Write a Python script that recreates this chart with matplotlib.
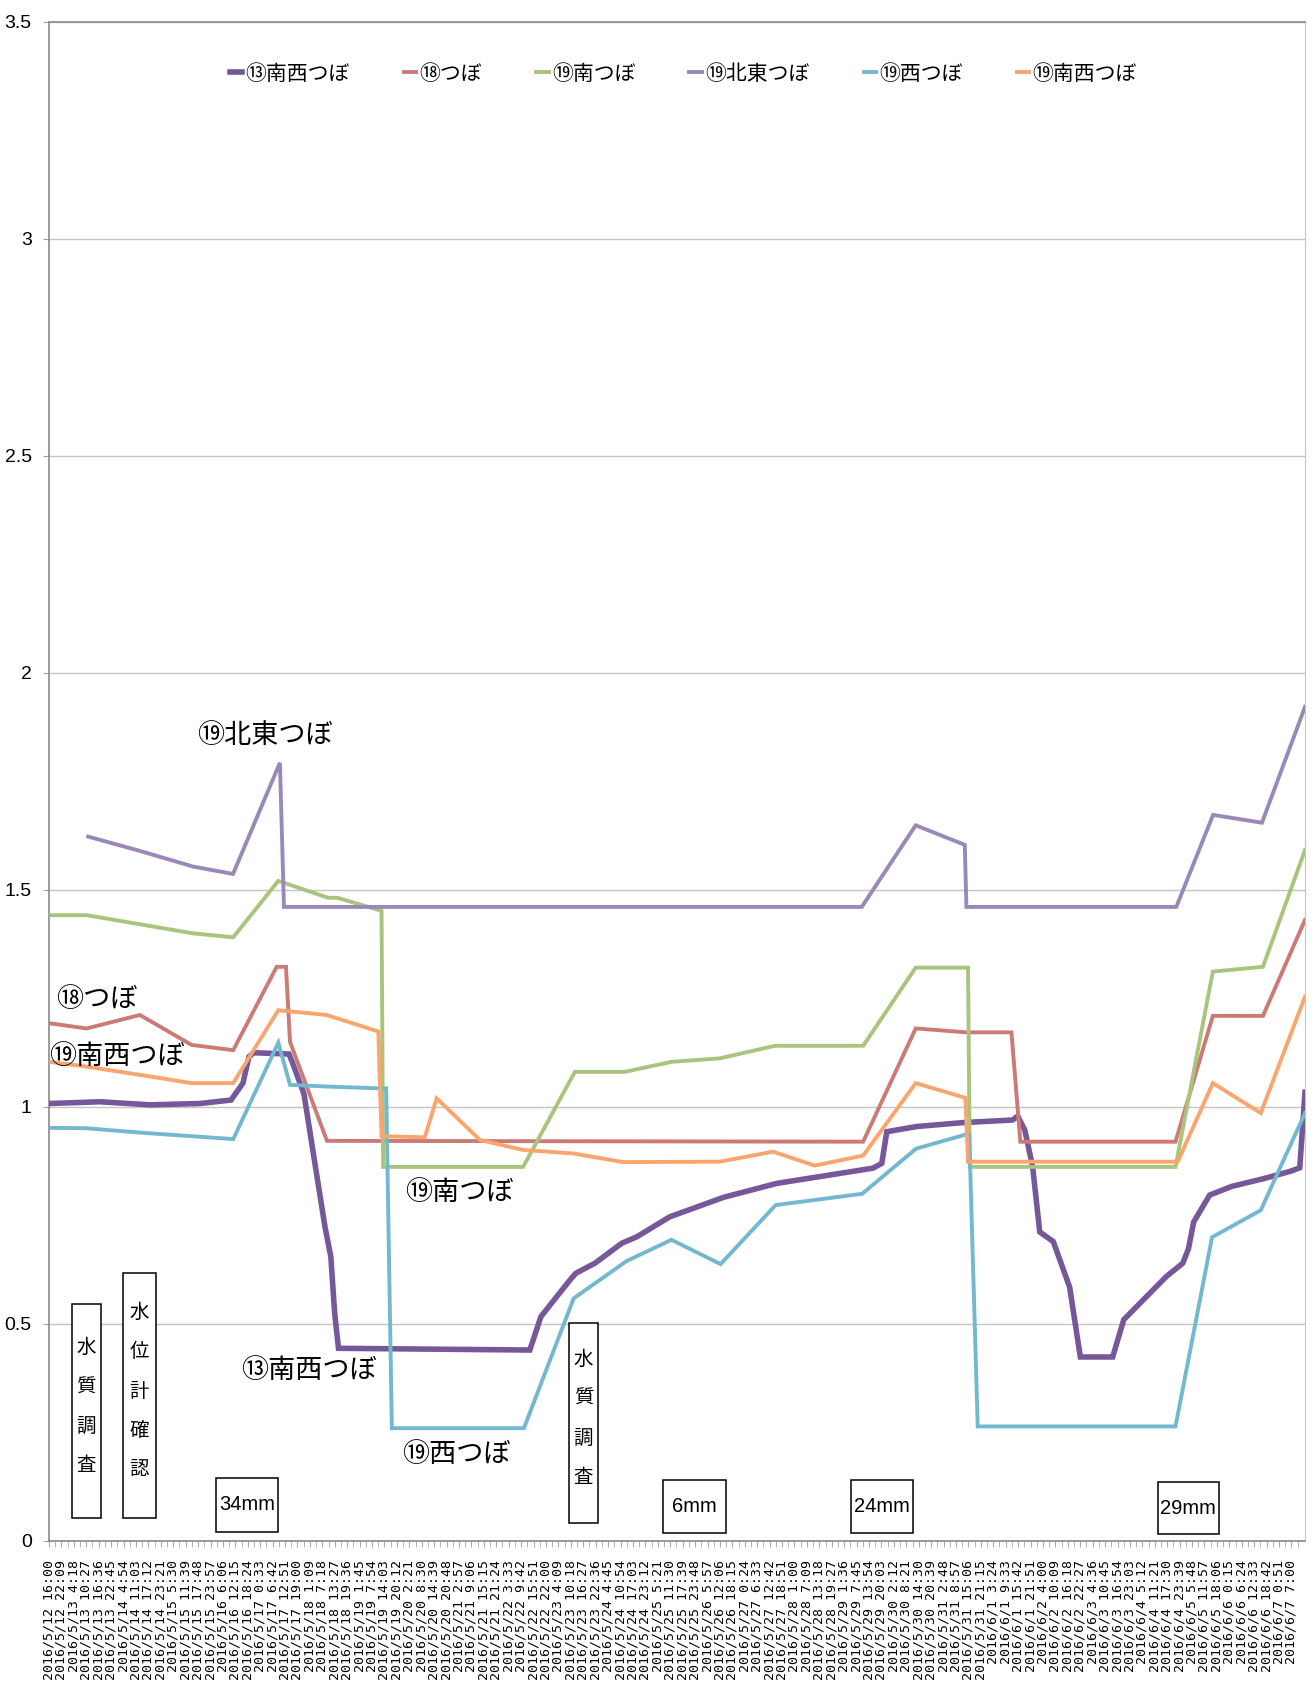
import matplotlib
matplotlib.use('Agg')
import matplotlib.pyplot as plt
from matplotlib.patches import Rectangle
import pandas as pd

plt.rcParams['font.family'] = ['Noto Sans CJK JP', 'DejaVu Sans']
NARROW = ['Liberation Sans', 'DejaVu Sans']

# x values: hours since 2016/5/12 16:00 ; y values: water level (m)
t13 = [0, 25.2, 50, 74.7, 90.1, 96, 99, 101.4, 118.8, 120.7, 126.2, 131.9, 136.6, 139.5,
       141.4, 143.3, 238.0, 243.5, 247.4, 257.8, 260.8, 270.2, 283.5, 291.0, 307.3, 334.0,
       360.3, 382.0, 407.8, 412.2, 414.7, 429.5, 452.3, 477.0, 479.5, 483.0, 486.9, 490.4,
       497.1, 505.2, 510.5, 526.5, 532.0, 542.6, 553.2, 561.2, 564.0, 566.6, 574.5, 585.4,
       601.3, 614.6, 619.1, 621.7]
v13 = [1.008, 1.012, 1.005, 1.008, 1.016, 1.055, 1.116, 1.125, 1.122, 1.10, 1.03, 0.862,
       0.724, 0.655, 0.525, 0.444, 0.440, 0.517, 0.540, 0.601, 0.617, 0.640, 0.686, 0.701,
       0.747, 0.792, 0.824, 0.840, 0.859, 0.870, 0.943, 0.955, 0.964, 0.970, 0.979, 0.947,
       0.862, 0.712, 0.690, 0.585, 0.424, 0.424, 0.510, 0.560, 0.610, 0.640, 0.673, 0.735,
       0.797, 0.817, 0.835, 0.852, 0.860, 1.034]

t18 = [0, 18.6, 45, 70.6, 91.2, 112.7, 117.3, 119.3, 137.6, 403.0, 429.0, 454.0, 476.4,
       480.8, 557.6, 576.1, 600.9, 621.7]
v18 = [1.193, 1.181, 1.212, 1.143, 1.131, 1.323, 1.323, 1.150, 0.922, 0.920, 1.181, 1.172,
       1.172, 0.920, 0.920, 1.210, 1.210, 1.431]

t19s = [0, 18.6, 45, 71.4, 91.2, 113.5, 138.2, 142.8, 164.6, 165.4, 234.7, 260.3, 285.0,
        308.1, 332.0, 359.3, 403.0, 429.0, 454.9, 455.8, 557.6, 576.1, 600.9, 621.7]
v19s = [1.442, 1.442, 1.421, 1.400, 1.391, 1.521, 1.482, 1.482, 1.452, 0.862, 0.862, 1.081,
        1.081, 1.104, 1.112, 1.141, 1.141, 1.321, 1.321, 0.862, 0.862, 1.312, 1.323, 1.592]

t19ne = [19.4, 45.0, 71.3, 91.1, 114.3, 116.3, 402.3, 429.0, 453.3, 454.1, 558.0, 576.2,
         600.4, 621.7]
v19ne = [1.623, 1.590, 1.554, 1.537, 1.793, 1.461, 1.461, 1.649, 1.604, 1.461, 1.461, 1.673,
         1.655, 1.922]

t19w = [0, 18.6, 45, 91.2, 113.5, 119.3, 138.2, 163.0, 166.9, 169.7, 235.1, 259.7, 285.9,
        308.1, 332.4, 359.7, 402.5, 429.2, 453.4, 455.5, 459.7, 557.6, 575.7, 599.8, 621.7]
v19w = [0.952, 0.951, 0.941, 0.926, 1.148, 1.051, 1.047, 1.043, 1.043, 0.260, 0.260, 0.559,
        0.645, 0.694, 0.638, 0.774, 0.800, 0.904, 0.936, 0.936, 0.264, 0.264, 0.700, 0.762,
        0.986]

t19sw = [0, 18.6, 45, 70.6, 91.2, 113.5, 137.4, 163.0, 164.6, 186.0, 191.9, 213.3, 234.7,
         259.5, 284.2, 332.0, 358.4, 379.0, 403.0, 429.0, 453.6, 454.9, 558.7, 576.1, 599.8,
         621.7]
v19sw = [1.104, 1.093, 1.074, 1.055, 1.055, 1.223, 1.212, 1.174, 0.933, 0.930, 1.020, 0.924,
         0.901, 0.893, 0.873, 0.874, 0.897, 0.865, 0.888, 1.055, 1.021, 0.874, 0.874, 1.055,
         0.986, 1.254]

series_names = ['⑬南西つぼ', '⑱つぼ', '⑲南つぼ', '⑲北東つぼ', '⑲西つぼ', '⑲南西つぼ']
series_colors = ['#76579A', '#CC7A75', '#A9C57D', '#9A89B8', '#73B8D0', '#F8A56E']

# category labels along x (every 6h09m)
label_times = pd.date_range('2016-05-12 16:00', periods=101, freq='369min')
tick_labels = [f"{d.year}/{d.month}/{d.day} {d.hour}:{d.minute:02d}" for d in label_times]
tick_hours = [(d - label_times[0]).total_seconds() / 3600 for d in label_times]
minor_hours = [h + 3.075 for h in tick_hours]

y_ticks = [0, 0.5, 1, 1.5, 2, 2.5, 3, 3.5]
y_tick_labels = ['0', '0.5', '1', '1.5', '2', '2.5', '3', '3.5']

# annotations: (text, hour, value)
line_labels = [('⑲北東つぼ', 106.8, 1.855), ('⑱つぼ', 23.9, 1.247), ('⑲南西つぼ', 33.5, 1.116),
               ('⑲南つぼ', 203.0, 0.804), ('⑬南西つぼ', 128.7, 0.392), ('⑲西つぼ', 201.4, 0.199)]
# event boxes: (text, h0, h1, v0, v1)
event_boxes = [('水\n質\n調\n査', 11.4, 25.5, 0.053, 0.546),
               ('水\n位\n計\n確\n認', 36.6, 52.8, 0.053, 0.618),
               ('水\n質\n調\n査', 257.6, 271.5, 0.042, 0.503)]
rain_boxes = [('34mm', 82.6, 113.2, 0.020, 0.146),
              ('6mm', 304.1, 335.0, 0.019, 0.141),
              ('24mm', 397.1, 427.6, 0.019, 0.141),
              ('29mm', 548.8, 579.0, 0.015, 0.137)]

fig = plt.figure(figsize=(13.14, 16.95), dpi=100)
ax = fig.add_axes([0.03729, 0.09086, 0.95586, 0.89617])

data = [(t13, v13), (t18, v18), (t19s, v19s), (t19ne, v19ne), (t19w, v19w), (t19sw, v19sw)]
for i, ((t, v), name, col) in enumerate(zip(data, series_names, series_colors)):
    lw = 4.0 if i == 0 else 2.8
    ax.plot(t, v, color=col, lw=lw, label=name, solid_joinstyle='miter', zorder=3 + i)

ax.set_xlim(0, 621.7)
ax.set_ylim(0, 3.5)
ax.set_yticks(y_ticks, y_tick_labels)
ax.yaxis.grid(True, color='#c4c4c4', lw=1.0)
ax.set_axisbelow(True)
ax.set_xticks(tick_hours, tick_labels, rotation=90, fontsize=9.5)
ax.set_xticks(minor_hours, minor=True)
for lbl in ax.get_xticklabels():
    lbl.set_fontfamily(['DejaVu Sans Mono'])
for lbl in ax.get_yticklabels():
    lbl.set_fontfamily(NARROW)
ax.tick_params(axis='x', which='both', length=4, color='#a8a8a8', pad=10)
ax.tick_params(axis='y', length=4.5, color='#a0a0a0', labelsize=14, pad=8)

for s in ['left', 'bottom', 'top']:
    ax.spines[s].set_color('#8a8a8a')
    ax.spines[s].set_linewidth(1.2)
ax.spines['right'].set_color('#c4c4c4')

ax.legend(loc='center', bbox_to_anchor=(0.505, 0.966), ncol=6, frameon=False, fontsize=15,
          handlelength=0.6, handletextpad=0.15, columnspacing=2.6)

for txt, h, v in line_labels:
    ax.text(h, v, txt, fontsize=19.5, ha='center', va='center', color='black', zorder=10)

for txt, h0, h1, v0, v1 in event_boxes:
    ax.add_patch(Rectangle((h0, v0), h1 - h0, v1 - v0, fill=True, fc='white', ec='black',
                           lw=1.1, zorder=9))
    ax.text((h0 + h1) / 2, (v0 + v1) / 2 + 0.01, txt, fontsize=14, ha='center', va='center',
            linespacing=2.15, zorder=10)

for txt, h0, h1, v0, v1 in rain_boxes:
    ax.add_patch(Rectangle((h0, v0), h1 - h0, v1 - v0, fill=True, fc='white', ec='black',
                           lw=1.1, zorder=9))
    ax.text((h0 + h1) / 2, (v0 + v1) / 2, txt, fontsize=14.5, ha='center', va='center',
            family=NARROW, zorder=10)

fig.savefig('out.png', dpi=100)
